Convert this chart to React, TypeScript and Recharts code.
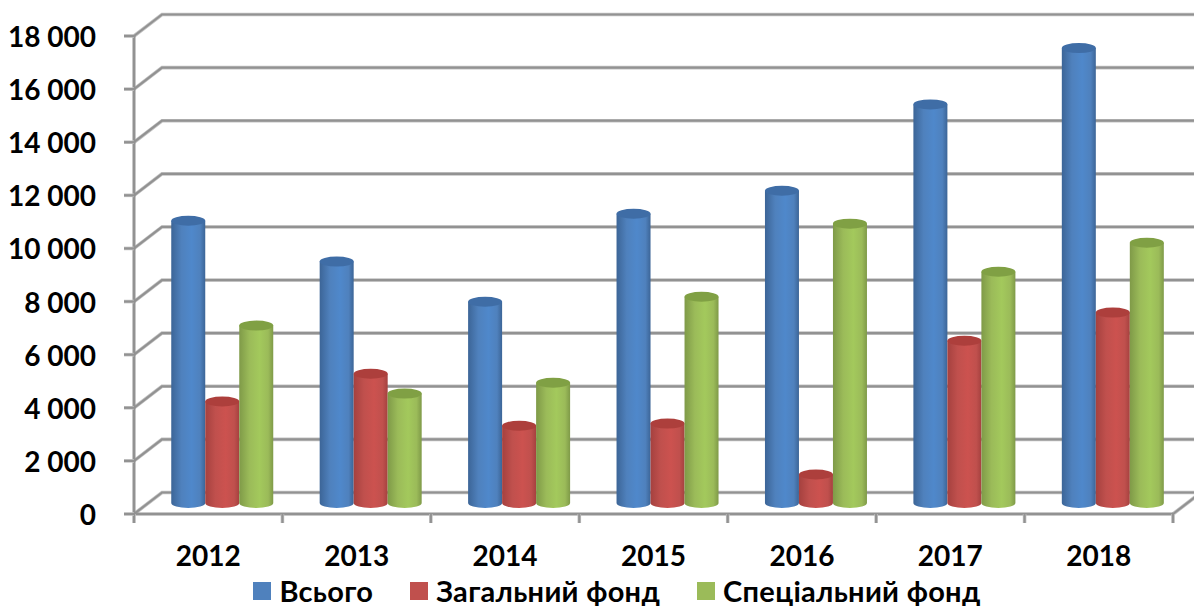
import React from 'react';
import { BarChart, Bar, XAxis, YAxis, CartesianGrid, Legend } from 'recharts';

const years = ['2012', '2013', '2014', '2015', '2016', '2017', '2018'];
const total = [10630, 9090, 7580, 10890, 11760, 15010, 17130];
const general = [3820, 4870, 2910, 2990, 1070, 6110, 7170];
const special = [6680, 4120, 4530, 7770, 10520, 8710, 9800];
const yTicks = [0, 2000, 4000, 6000, 8000, 10000, 12000, 14000, 16000, 18000];

const data = years.map((year, i) => ({
  year,
  total: total[i],
  general: general[i],
  special: special[i],
}));

const W = 1194;
const H = 606;
const PLOT_LEFT = 134;
const PLOT_RIGHT = 1173;
const PLOT_TOP = 36;
const PLOT_BOTTOM = 514;
const STEP = (PLOT_RIGHT - PLOT_LEFT) / years.length;
// 3D look: how far the back wall sits from the front plane
const WALL_X = 28;
const WALL_Y = 21.5;
// bars stand in the middle of the floor
const BAR_DX = 13.5;
const BAR_DY = -11;
const RY = 5;

const GREY = '#929292';
const GREY_SOFT = '#c4c4c4';
const FONT = 'Lato, Carlito, "Open Sans", sans-serif';

const series = [
  { key: 'total', name: 'Всього', flat: '#4f81bd', edge: '#3c6597', mid: '#4f88cb', cap: '#3f6da6' },
  { key: 'general', name: 'Загальний фонд', flat: '#c0504d', edge: '#a5413f', mid: '#cc524f', cap: '#ad3f3c' },
  { key: 'special', name: 'Спеціальний фонд', flat: '#9bbb59', edge: '#7f9a48', mid: '#a3c95c', cap: '#80a044' },
];

const SoftLine = ({ d }: { d: string }) => (
  <g fill="none">
    <path d={d} stroke={GREY_SOFT} strokeWidth={3.6} />
    <path d={d} stroke={GREY} strokeWidth={2.2} />
  </g>
);

const gridLine = (props: any) => {
  const y = props.y1;
  const isFloor = Math.abs(y - PLOT_BOTTOM) < 1;
  return (
    <g key={props.key ?? y}>
      <SoftLine d={`M${PLOT_LEFT},${y} L${PLOT_LEFT + WALL_X},${y - WALL_Y} L${W},${y - WALL_Y}`} />
      {isFloor && <SoftLine d={`M${PLOT_RIGHT},${y} L${PLOT_RIGHT + WALL_X},${y - WALL_Y}`} />}
    </g>
  );
};

const Cylinder = (s: (typeof series)[number]) => (props: any) => {
  const { x, y, width, height } = props;
  const left = x + BAR_DX;
  const right = left + width;
  const rx = width / 2;
  const top = y + BAR_DY;
  const base = y + height + BAR_DY;
  return (
    <g>
      <path
        d={`M${left},${top} L${left},${base} A${rx},${RY} 0 0 0 ${right},${base} L${right},${top} Z`}
        fill={`url(#body-${s.key})`}
      />
      <ellipse cx={left + rx} cy={top} rx={rx} ry={RY} fill={s.cap} />
    </g>
  );
};

const YTick = ({ y, payload }: any) => (
  <g>
    <SoftLine d={`M${PLOT_LEFT - 10},${y} L${PLOT_LEFT},${y}`} />
    <text x={PLOT_LEFT - 38} y={y + 11} textAnchor="end" fontFamily={FONT} fontWeight={700} fontSize={28} fill="#000">
      {payload.value === 0 ? '0' : `${payload.value / 1000} 000`}
    </text>
  </g>
);

const XTick = ({ x, payload, index }: any) => (
  <g>
    <SoftLine d={`M${x - STEP / 2},${PLOT_BOTTOM} L${x - STEP / 2},${PLOT_BOTTOM + 9}`} />
    {index === years.length - 1 && (
      <SoftLine d={`M${x + STEP / 2},${PLOT_BOTTOM} L${x + STEP / 2},${PLOT_BOTTOM + 9}`} />
    )}
    <text x={x} y={PLOT_BOTTOM + 52} textAnchor="middle" fontFamily={FONT} fontWeight={700} fontSize={28} fill="#000">
      {payload.value}
    </text>
  </g>
);

const LegendRow = () => (
  <div
    style={{
      display: 'flex',
      justifyContent: 'center',
      gap: 37,
      fontFamily: FONT,
      fontWeight: 700,
      fontSize: 29,
      letterSpacing: 0.3,
      lineHeight: '34px',
      color: '#000',
    }}
  >
    {series.map((s) => (
      <div key={s.key} style={{ display: 'flex', alignItems: 'center' }}>
        <span style={{ width: 18, height: 18, background: s.flat, marginRight: 8 }} />
        <span>{s.name}</span>
      </div>
    ))}
  </div>
);

export default function App() {
  return (
    <div style={{ position: 'absolute', left: 0, top: 0, width: W, height: H, background: '#fff' }}>
      <BarChart
        width={W}
        height={H}
        data={data}
        barCategoryGap="16%"
        barGap={0}
        margin={{ top: PLOT_TOP, right: W - PLOT_RIGHT, bottom: 0, left: 0 }}
      >
        <defs>
          {series.map((s) => (
            <linearGradient key={s.key} id={`body-${s.key}`} x1="0" y1="0" x2="1" y2="0">
              <stop offset="0%" stopColor={s.edge} />
              <stop offset="30%" stopColor={s.flat} />
              <stop offset="60%" stopColor={s.mid} />
              <stop offset="85%" stopColor={s.flat} />
              <stop offset="100%" stopColor={s.edge} />
            </linearGradient>
          ))}
        </defs>
        <CartesianGrid vertical={false} horizontal={gridLine} stroke={GREY} />
        <XAxis
          dataKey="year"
          height={H - PLOT_BOTTOM}
          axisLine={{ stroke: GREY, strokeWidth: 3 }}
          tickLine={false}
          tick={<XTick />}
          interval={0}
        />
        <YAxis
          domain={[0, 18000]}
          ticks={yTicks}
          interval={0}
          axisLine={{ stroke: GREY, strokeWidth: 3 }}
          tickLine={false}
          tick={<YTick />}
          width={PLOT_LEFT}
        />
        <Legend
          verticalAlign="middle"
          align="center"
          content={<LegendRow />}
          wrapperStyle={{ top: 574, left: 20, width: W }}
        />
        {series.map((s) => (
          <Bar
            key={s.key}
            dataKey={s.key}
            name={s.name}
            fill={s.flat}
            shape={Cylinder(s)}
            isAnimationActive={false}
          />
        ))}
      </BarChart>
    </div>
  );
}
